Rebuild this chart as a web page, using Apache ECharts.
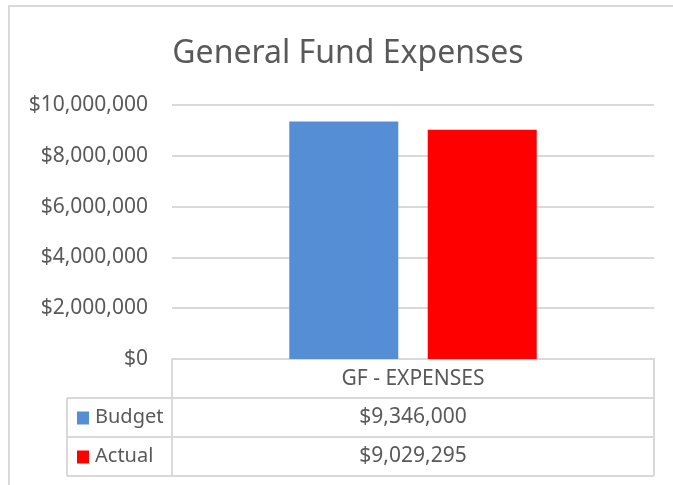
<!DOCTYPE html>
<html><head><meta charset="utf-8">
<script src="https://cdn.jsdelivr.net/npm/echarts@6/dist/echarts.min.js"></script>
<style>html,body{margin:0;padding:0;background:#fff}#c{width:673px;height:485px}</style>
</head><body><div id="c"></div>
<script>
const categories = ['GF - EXPENSES'];
const seriesNames = ['Budget', 'Actual'];
const budget = [9346000];
const actual = [9029295];
const colors = ['#558ed5', '#ff0000'];
const yTicks = [0, 2000000, 4000000, 6000000, 8000000, 10000000];

const FONT = '"Noto Sans", sans-serif';
const TXT = '#595959';
const LINE = '#d9d9d9';
function money(v){ return '$' + v.toLocaleString('en-US'); }

const G = {left:172, right:19, top:105, bottom:126};
const W = 673, H = 485;
const chart = echarts.init(document.getElementById('c'));
const gx0 = G.left, gx1 = W - G.right, gy1 = H - G.bottom;
const rowH = 39, labelX0 = 67;

const graphic = [];
graphic.push({type:'rect', shape:{x:9, y:6, width:700, height:520}, style:{fill:'none', stroke:LINE, lineWidth:2}, silent:true});
graphic.push({type:'polyline', shape:{points:[[gx0, gy1+rowH*3], [gx0, gy1], [gx1, gy1], [gx1, gy1+rowH*3]]}, style:{fill:'none', stroke:LINE, lineWidth:2}});
graphic.push({type:'text', style:{text:categories[0], x:(gx0+gx1)/2, y:gy1+rowH/2+1, textAlign:'center', textVerticalAlign:'middle', fill:TXT, font:'21px '+FONT}});
const rows = [budget, actual];
for (let r = 0; r < 2; r++) {
  const y0 = gy1 + rowH*(r+1);
  graphic.push({type:'line', shape:{x1:labelX0, y1:y0, x2:gx1, y2:y0}, style:{stroke:LINE, lineWidth:2}});
  graphic.push({type:'rect', shape:{x:labelX0+10, y:y0+rowH/2-6, width:12, height:13}, style:{fill:colors[r]}});
  graphic.push({type:'text', style:{text:seriesNames[r], x:labelX0+28, y:y0+rowH/2, textAlign:'left', textVerticalAlign:'middle', fill:TXT, font:'20px '+FONT}});
  graphic.push({type:'text', style:{text:money(rows[r][0]), x:(gx0+gx1)/2, y:y0+rowH/2, textAlign:'center', textVerticalAlign:'middle', fill:TXT, font:'21px '+FONT}});
}
const yb = gy1 + rowH*3;
graphic.push({type:'line', shape:{x1:labelX0, y1:yb, x2:gx1, y2:yb}, style:{stroke:LINE, lineWidth:2}});
graphic.push({type:'line', shape:{x1:labelX0, y1:gy1+rowH, x2:labelX0, y2:yb}, style:{stroke:LINE, lineWidth:2}});

chart.setOption({
  animation:false,
  backgroundColor:'#fff',
  title:{text:'General Fund Expenses', left:343, textAlign:'center', top:33, textStyle:{fontFamily:FONT, fontSize:32, fontWeight:'normal', color:TXT}},
  grid:G,
  xAxis:{type:'category', data:categories, axisLine:{show:false}, axisTick:{show:false}, axisLabel:{show:false}},
  yAxis:{type:'value', min:0, max:10000000, interval:2000000,
    axisLabel:{formatter:v=>money(v), fontFamily:FONT, fontSize:21, color:TXT, margin:24},
    splitLine:{lineStyle:{color:LINE, width:2}}, axisLine:{show:false}, axisTick:{show:false}},
  series:[
    {name:seriesNames[0], type:'bar', data:budget, itemStyle:{color:colors[0]}, barWidth:109, barGap:'27%'},
    {name:seriesNames[1], type:'bar', data:actual, itemStyle:{color:colors[1]}, barWidth:109}
  ],
  graphic:graphic
});
</script></body></html>
